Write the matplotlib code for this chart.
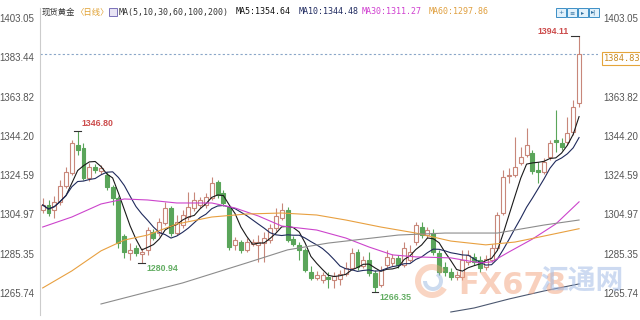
import numpy as np
import pandas as pd
import matplotlib
matplotlib.use("Agg")
import matplotlib.pyplot as plt
from matplotlib.patches import Rectangle, Wedge

plt.rcParams['font.family'] = ['Liberation Sans', 'Noto Sans CJK SC', 'DejaVu Sans']

# daily candles (10 per row)
opens = [1307.2, 1309.7, 1307.2, 1311.2, 1319.2, 1325.7, 1339.7, 1338.2, 1323.2, 1328.7,
         1326.7, 1324.7, 1318.7, 1313.2, 1294.2, 1285.7, 1288.3, 1285.3, 1287.3, 1296.2,
         1295.7, 1300.7, 1308.2, 1295.7, 1299.7, 1303.7, 1308.2, 1309.7, 1309.7, 1313.2,
         1321.2, 1315.7, 1308.7, 1289.7, 1291.2, 1287.3, 1290.2, 1289.7, 1290.7, 1292.2,
         1298.2, 1303.2, 1307.2, 1292.7, 1289.7, 1287.3, 1276.3, 1273.3, 1272.3, 1273.8,
         1272.3, 1272.8, 1275.3, 1278.3, 1286.3, 1279.3, 1282.3, 1275.8, 1269.8, 1279.8,
         1280.8, 1283.3, 1279.8, 1282.3, 1291.2, 1298.7, 1294.7, 1295.7, 1285.8, 1278.8,
         1276.3, 1273.8, 1273.8, 1281.3, 1283.8, 1282.3, 1278.8, 1282.3, 1288.3, 1305.7,
         1324.2, 1324.7, 1330.7, 1334.7, 1335.7, 1327.2, 1326.2, 1333.7, 1342.2, 1340.7,
         1341.2, 1346.2, 1360.6]
highs = [1313.2, 1312.2, 1314.2, 1322.2, 1328.7, 1342.2, 1346.8, 1340.7, 1330.7, 1330.2,
         1329.7, 1326.2, 1319.7, 1314.2, 1295.2, 1290.7, 1289.8, 1288.3, 1298.7, 1297.7,
         1303.2, 1311.2, 1309.2, 1304.7, 1307.2, 1316.2, 1316.2, 1313.7, 1315.7, 1323.7,
         1322.2, 1317.2, 1309.7, 1293.7, 1292.2, 1293.2, 1292.7, 1294.7, 1296.2, 1300.2,
         1308.2, 1310.7, 1308.7, 1294.2, 1291.2, 1288.3, 1279.3, 1276.8, 1276.3, 1276.3,
         1276.3, 1277.3, 1281.3, 1288.3, 1287.8, 1284.3, 1286.3, 1277.3, 1279.3, 1287.3,
         1285.3, 1284.8, 1291.2, 1289.7, 1301.2, 1301.2, 1298.7, 1297.7, 1287.3, 1281.3,
         1278.3, 1276.8, 1287.3, 1287.3, 1285.8, 1284.3, 1284.8, 1290.2, 1306.2, 1327.2,
         1328.2, 1343.7, 1338.7, 1348.2, 1337.2, 1331.2, 1333.2, 1342.2, 1357.1, 1343.2,
         1353.6, 1362.1, 1394.11]
lows = [1305.7, 1304.2, 1303.2, 1309.7, 1318.2, 1324.7, 1334.7, 1322.2, 1321.7, 1325.7,
        1325.2, 1317.2, 1309.7, 1288.2, 1283.3, 1282.3, 1284.3, 1280.94, 1284.8, 1292.2,
        1294.2, 1299.7, 1294.2, 1294.7, 1298.2, 1302.2, 1306.7, 1308.2, 1308.2, 1312.2,
        1313.2, 1309.2, 1287.3, 1287.3, 1285.7, 1286.3, 1289.2, 1281.3, 1281.3, 1290.7,
        1296.7, 1302.2, 1291.2, 1289.2, 1282.3, 1276.3, 1272.3, 1272.3, 1270.8, 1268.3,
        1268.3, 1269.8, 1274.3, 1277.3, 1277.3, 1278.3, 1274.3, 1266.35, 1268.8, 1278.3,
        1279.3, 1278.3, 1278.8, 1281.3, 1289.7, 1293.2, 1293.2, 1284.8, 1274.8, 1274.3,
        1272.3, 1272.3, 1272.3, 1279.8, 1279.8, 1276.3, 1277.3, 1281.3, 1287.3, 1304.7,
        1320.7, 1323.7, 1329.7, 1333.7, 1325.2, 1320.7, 1325.2, 1332.2, 1336.2, 1337.2,
        1339.7, 1344.7, 1358.6]
closes = [1309.7, 1305.7, 1311.2, 1319.2, 1326.2, 1340.7, 1337.2, 1323.2, 1328.7, 1327.2,
          1328.2, 1318.7, 1313.2, 1290.7, 1286.3, 1287.3, 1285.7, 1286.3, 1297.2, 1293.2,
          1301.2, 1308.2, 1295.7, 1301.2, 1304.7, 1308.7, 1312.2, 1312.2, 1313.7, 1320.7,
          1314.7, 1310.7, 1288.7, 1292.2, 1287.3, 1291.2, 1291.2, 1291.2, 1293.2, 1298.2,
          1304.2, 1307.2, 1292.2, 1290.2, 1287.3, 1277.3, 1273.3, 1274.8, 1274.8, 1272.8,
          1274.3, 1275.3, 1278.3, 1285.8, 1278.8, 1282.3, 1275.8, 1268.8, 1277.3, 1283.8,
          1283.3, 1279.8, 1288.3, 1286.3, 1299.7, 1294.7, 1297.2, 1286.3, 1276.3, 1276.3,
          1273.8, 1274.8, 1282.3, 1284.8, 1281.3, 1278.3, 1282.8, 1288.3, 1304.7, 1323.7,
          1324.7, 1328.7, 1333.7, 1339.7, 1326.7, 1326.2, 1331.2, 1340.7, 1341.2, 1338.7,
          1345.7, 1358.6, 1384.83]

# longer moving averages (candle index, value)
ma30_idx = [0, 5, 10, 14, 18, 23, 29, 33, 37, 41, 47, 52, 56, 60, 64, 70, 75, 77, 80, 84, 88, 92]
ma30_val = [1298.7, 1303.7, 1310.2, 1312.7, 1312.2, 1310.7, 1310.7, 1308.2, 1304.2, 1299.2, 1297.2,
            1293.2, 1288.7, 1284.8, 1283.8, 1283.3, 1280.8, 1281.3, 1286.3, 1292.7, 1300.2, 1311.27]
ma60_idx = [0, 5, 10, 14, 18, 23, 29, 35, 41, 47, 52, 58, 64, 70, 76, 81, 86, 92]
ma60_val = [1268.3, 1276.8, 1286.8, 1292.2, 1294.7, 1300.2, 1303.7, 1305.2, 1305.7, 1304.7, 1302.2,
            1298.7, 1295.7, 1291.7, 1289.8, 1291.2, 1294.2, 1297.86]
ma100_idx = [10, 18, 24, 35, 42, 49, 61, 69, 78, 86, 92]
ma100_val = [1260.3, 1266.3, 1270.8, 1280.8, 1287.3, 1290.7, 1294.7, 1295.7, 1295.7, 1299.7, 1302.2]
ma200_idx = [70, 74, 80, 86, 92]
ma200_val = [1256.3, 1258.3, 1262.8, 1266.8, 1270.3]

last_price = 1384.83
y_ticks = [1265.74, 1285.35, 1304.97, 1324.59, 1344.20, 1363.82, 1383.44, 1403.05]
header_ma = ['MA5:1354.64', 'MA10:1344.48', 'MA30:1311.27', 'MA60:1297.86']

o = np.array(opens)
h = np.array(highs)
l = np.array(lows)
c = np.array(closes)
idx = np.arange(len(c))
ma5 = pd.Series(c).rolling(5, min_periods=1).mean()
ma10 = pd.Series(c).rolling(10, min_periods=1).mean()

up_col = '#c8877a'
dn_col = '#5aa55a'

fig = plt.figure(figsize=(6.4, 3.2), dpi=100)
ax = fig.add_axes([40 / 640, 5 / 320, 558 / 640, 307 / 320])
ax.set_xlim(-0.46, 95.25)
ax.set_ylim(1254.8, 1408.0)

up = c >= o
cols = np.where(up, up_col, dn_col)
ax.vlines(idx, l, h, colors=cols, lw=0.8, zorder=2)
ax.bar(idx, np.maximum(np.abs(c - o), 0.35), bottom=np.minimum(o, c), width=0.68,
       color=np.where(up, 'white', dn_col), edgecolor=cols, linewidth=0.8, zorder=3)

ax.plot(idx, ma5, color='#1a1a1a', lw=0.8, zorder=4)
ax.plot(idx, ma10, color='#1f2a5c', lw=0.8, zorder=4)
ax.plot(ma30_idx, ma30_val, color='#cc44cc', lw=0.8, zorder=4)
ax.plot(ma60_idx, ma60_val, color='#e8a040', lw=0.8, zorder=4)
ax.plot(ma100_idx, ma100_val, color='#8c8c8c', lw=0.8, zorder=4)
ax.plot(ma200_idx, ma200_val, color='#4c5870', lw=0.8, zorder=4)

ax.axhline(last_price, color='#8aa6c8', ls=(0, (2, 2)), lw=0.8, zorder=1)

ax.set_yticks(y_ticks)
ax.set_yticklabels([f"{t:.2f}" for t in y_ticks])
ax.set_xticks([])
ax.tick_params(axis='y', length=0, labelsize=7, labelcolor='#555555',
               labelleft=True, labelright=True, pad=4)
for s in ['top', 'right', 'bottom']:
    ax.spines[s].set_visible(False)
ax.spines['left'].set_color('#cccccc')
ax.spines['left'].set_linewidth(0.8)

# current price box on the right, hanging just under the dashed line
ax.annotate(f"{last_price:.2f}", xy=(1.0, last_price), xycoords=ax.get_yaxis_transform(),
            xytext=(6, -4), textcoords='offset pixels',
            ha='left', va='center', fontsize=6.2, family='DejaVu Sans Mono', color='#c98a20',
            bbox=dict(boxstyle='square,pad=0.25', fc='white', ec='#e5a53a', lw=0.8),
            annotation_clip=False, zorder=10)

# high / low marks
red = '#cc4b4b'
grn = '#62ad62'
i_hi1 = int(np.argmax(h[:20]))
i_lo1 = int(np.argmin(l[:30]))
i_lo2 = int(np.argmin(l))
i_hi2 = int(np.argmax(h))
for i, v in [(i_hi1, h[i_hi1]), (i_lo1, l[i_lo1]), (i_lo2, l[i_lo2])]:
    ax.plot([i - 0.6, i + 0.6], [v, v], color='#333333', lw=0.8, zorder=5)
ax.plot([i_hi2 - 1.3, i_hi2], [h[i_hi2]] * 2, color='#333333', lw=0.8, zorder=5)
ax.annotate(f"{h[i_hi1]:.2f}", xy=(i_hi1, h[i_hi1]), xytext=(4, 7), textcoords='offset pixels',
            ha='left', va='center', fontsize=6.3, color=red, weight='bold')
ax.annotate(f"{h[i_hi2]:.2f}", xy=(i_hi2, h[i_hi2]), xytext=(-10, 4), textcoords='offset pixels',
            ha='right', va='center', fontsize=6.3, color=red, weight='bold')
ax.annotate(f"{l[i_lo1]:.2f}", xy=(i_lo1, l[i_lo1]), xytext=(5, -6), textcoords='offset pixels',
            ha='left', va='center', fontsize=6.3, color=grn, weight='bold')
ax.annotate(f"{l[i_lo2]:.2f}", xy=(i_lo2, l[i_lo2]), xytext=(4, -6), textcoords='offset pixels',
            ha='left', va='center', fontsize=6.3, color=grn, weight='bold')


def fx(x):
    return x / 640


def fy(y):
    return 1 - y / 320


# header line
fig.text(fx(42), fy(12), "现货黄金", fontsize=6, family=['Noto Sans CJK SC'], color='#333333', va='center')
fig.text(fx(75), fy(12), "〈日线〉", fontsize=6, family=['Noto Sans CJK SC'], color='#e0a030', va='center')
fig.add_artist(Rectangle((fx(109), fy(16)), 8 / 640, 8 / 320, transform=fig.transFigure,
                         fc='#e8e4f4', ec='#7a70b8', lw=0.7))
fig.text(fx(119), fy(12), "MA(5,10,30,60,100,200)", fontsize=6, family='DejaVu Sans Mono',
         color='#333333', va='center')
ma_cols = ['#111111', '#1f2a60', '#d040d0', '#e0a040']
ma_x = [236, 299, 362, 429]
for txt, col, x in zip(header_ma, ma_cols, ma_x):
    fig.text(fx(x), fy(12), txt, fontsize=6, family='DejaVu Sans Mono', color=col, va='center')

# toolbar buttons top right
btn_marks = ['+', '≡', '▸', '▸|']
for k, m in enumerate(btn_marks):
    fig.add_artist(Rectangle((fx(556 + 11 * k), fy(17)), 10 / 640, 9 / 320, transform=fig.transFigure,
                             fc='#e2f1fb', ec='#3d8fc6', lw=0.7))
    fig.text(fx(561 + 11 * k), fy(12.5), m, fontsize=4.5, family='DejaVu Sans', color='#2f6f9f',
             ha='center', va='center')

# watermark
fig.add_artist(Wedge((4.32, 0.39), 0.17, 40, 330, width=0.06, transform=fig.dpi_scale_trans,
                     fc='#f2a27a', ec='none', alpha=0.45, zorder=20))
fig.add_artist(Wedge((4.33, 0.39), 0.10, 180, 60, width=0.04, transform=fig.dpi_scale_trans,
                     fc='#8fb0dd', ec='none', alpha=0.45, zorder=20))
fig.text(fx(458), fy(285), "FX678", fontsize=22, weight='bold', color='#f3a27c', alpha=0.5,
         family=['Liberation Sans Narrow', 'DejaVu Sans'], va='center', zorder=20)
fig.text(fx(540), fy(282), "汇通网", fontsize=20, weight='bold', color='#9cb7e4', alpha=0.5,
         family=['Noto Sans CJK SC'], va='center', zorder=20)

fig.savefig("out.png", dpi=100)
